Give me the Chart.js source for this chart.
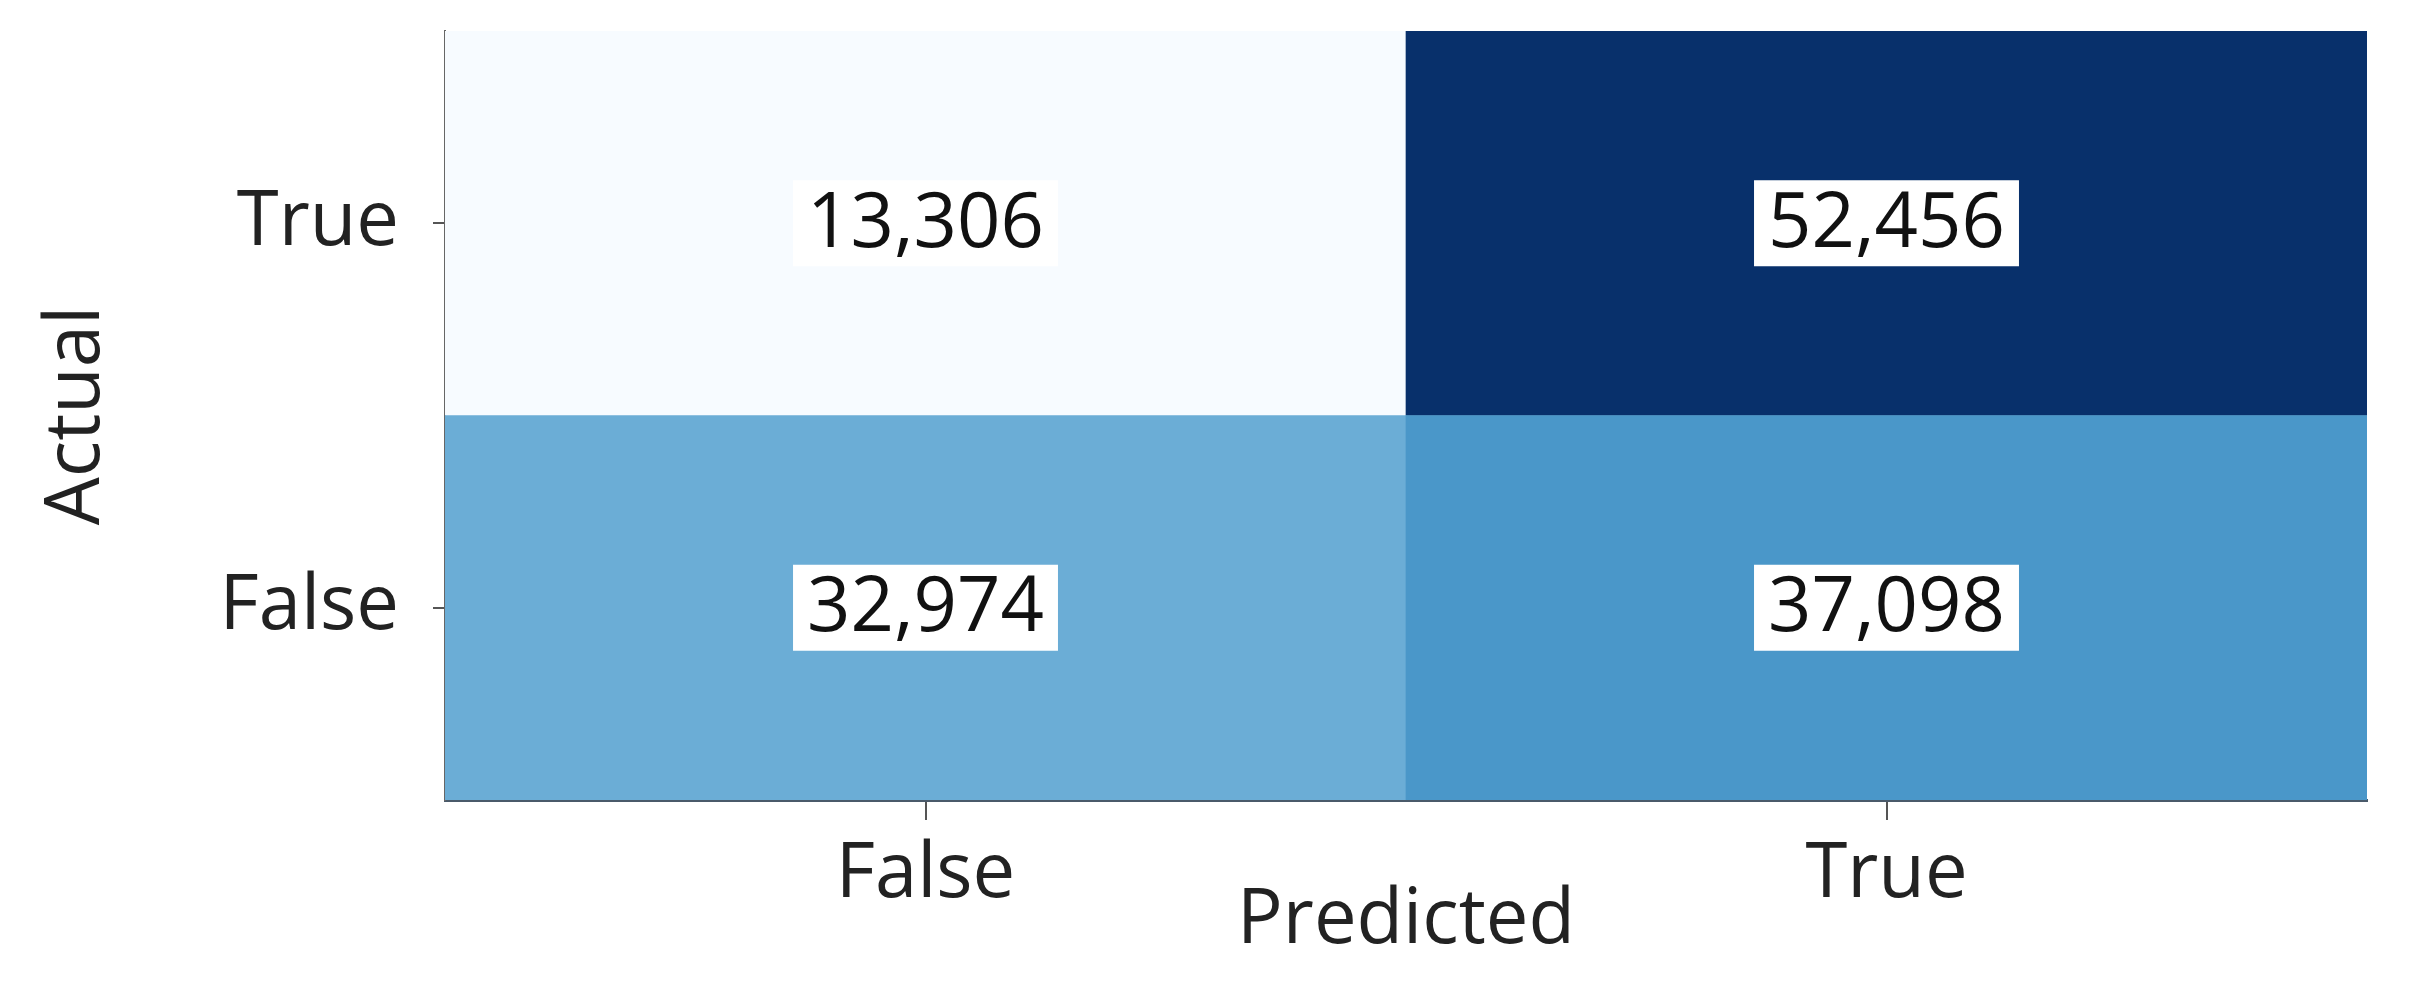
<!DOCTYPE html>
<html><head><meta charset="utf-8">
<script src="https://cdn.jsdelivr.net/npm/chart.js"></script>
<style>html,body{margin:0;padding:0;background:#fff}#wrap{width:2422px;height:997px}</style>
</head><body><div id="wrap"><canvas id="c"></canvas></div>
<script>
const predictedLabels = ['False', 'True'];
const actualLabels = ['False', 'True'];
const countsActualFalse = [32974, 37098];
const countsActualTrue = [13306, 52456];
const colorsActualFalse = ['#6badd6', '#4a97c9'];
const colorsActualTrue = ['#f7fbff', '#08306b'];
const FONT = '"Open Sans", "Noto Sans", sans-serif';

const labelPlugin = {
  id: 'cellLabels',
  afterDatasetsDraw(chart) {
    const ctx = chart.ctx;
    ctx.save();
    ctx.font = '76px ' + FONT;
    ctx.textAlign = 'center';
    ctx.textBaseline = 'middle';
    chart.data.datasets.forEach((ds, di) => {
      chart.getDatasetMeta(di).data.forEach((bar, i) => {
        const txt = ds.counts[i].toLocaleString('en-US');
        const cx = bar.x, cy = (bar.y + bar.base) / 2;
        const w = ctx.measureText(txt).width + 28, h = 86;
        ctx.fillStyle = '#ffffff';
        ctx.fillRect(cx - w / 2, cy - h / 2, w, h);
        ctx.fillStyle = '#111111';
        ctx.fillText(txt, cx, cy + 2);
      });
    });
    ctx.restore();
  }
};

new Chart(document.getElementById('c'), {
  type: 'bar',
  data: {
    labels: predictedLabels,
    datasets: [
      { label: actualLabels[0], data: predictedLabels.map(() => 1), counts: countsActualFalse, backgroundColor: colorsActualFalse, barPercentage: 1, categoryPercentage: 1, borderWidth: 0 },
      { label: actualLabels[1], data: predictedLabels.map(() => 1), counts: countsActualTrue, backgroundColor: colorsActualTrue, barPercentage: 1, categoryPercentage: 1, borderWidth: 0 }
    ]
  },
  options: {
    responsive: true, maintainAspectRatio: false, animation: false,
    layout: { padding: { top: 31, right: 55, left: 0, bottom: 0 } },
    plugins: { legend: { display: false }, tooltip: { enabled: false } },
    scales: {
      x: {
        stacked: true,
        afterFit: s => { s.height = 197; s.paddingLeft = 0; s.paddingRight = 0; },
        grid: { display: true, offset: false, drawOnChartArea: false, tickLength: 20, color: '#555', lineWidth: 2 },
        border: { display: true, color: '#4a5a6a', width: 3 },
        ticks: { font: { size: 76, family: FONT }, color: '#222', padding: 10 },
        title: { display: true, text: 'Predicted', font: { size: 76, family: FONT }, color: '#222', padding: { top: 0, bottom: 30 } }
      },
      y: {
        stacked: true, min: 0, max: 2,
        afterFit: s => { s.width = 445; s.paddingTop = 0; s.paddingBottom = 0; },
        afterBuildTicks: s => { s.ticks = [{ value: 0.5 }, { value: 1.5 }]; },
        grid: { display: true, drawOnChartArea: false, tickLength: 12, color: '#555', lineWidth: 2 },
        border: { display: true, color: '#666', width: 2 },
        ticks: { font: { size: 76, family: FONT }, color: '#222', padding: 34,
          callback: v => v === 0.5 ? actualLabels[0] : (v === 1.5 ? actualLabels[1] : '') },
        title: { display: true, text: 'Actual', font: { size: 76, family: FONT }, color: '#222', padding: { top: 32, bottom: 0 } }
      }
    }
  },
  plugins: [labelPlugin]
});
</script></body></html>
